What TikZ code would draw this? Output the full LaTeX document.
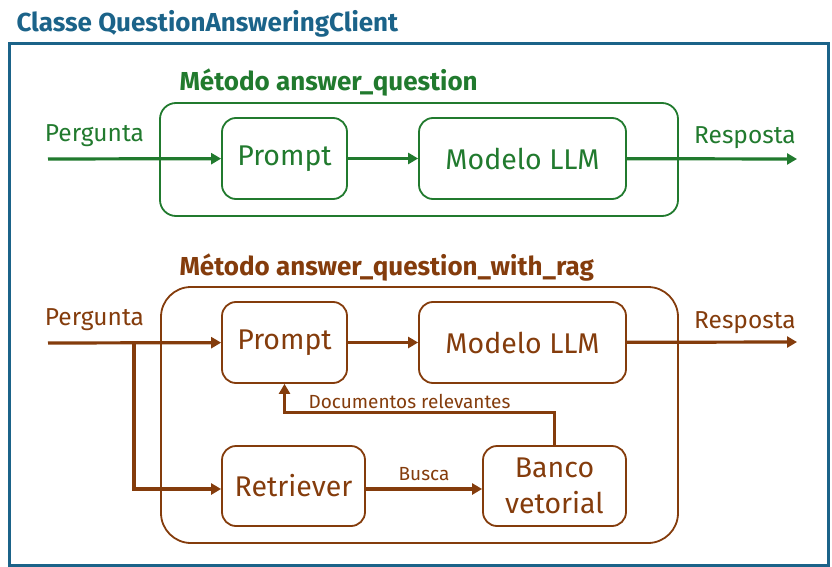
\documentclass[tikz,border=0pt]{standalone}
\usepackage{fontspec}
\setmainfont{Fira Sans}
\usepackage{tikz}
\usetikzlibrary{arrows.meta}

\definecolor{classblue}{RGB}{27,99,137}
\definecolor{qagreen}{RGB}{33,122,46}
\definecolor{ragbrown}{RGB}{132,60,12}

\tikzset{
    blk/.style={draw, line width=1.8pt, rounded corners=14pt, align=center,
        font=\fontsize{28.5}{36}\selectfont},
    grp/.style={draw, line width=1.8pt},
    arr/.style={line width=3.2pt, -{Triangle[length=10pt,width=11pt]}},
    lbl/.style={font=\fontsize{24.5}{28}\selectfont},
    ttl/.style={font=\bfseries\fontsize{26}{30}\selectfont, anchor=west},
}

\begin{document}
\begin{tikzpicture}[x=1pt,y=-1pt]
    \useasboundingbox (0,0) rectangle (832,567);

    % classe
    \draw[classblue, line width=3pt] (9.5,43.5) rectangle (828.5,565);
    \node[ttl, classblue] (title) at (13,24) {Classe QuestionAnsweringClient};

    % metodo answer_question
    \node[grp, qagreen, rounded corners=16pt, minimum width=518pt, minimum height=113pt] (gbox) at (419,159.5) {};
    \node[ttl, qagreen] (glabel) at (176,83) {Método answer\_question};
    \node[blk, qagreen, minimum width=125pt, minimum height=81pt] (gprompt) at (284.5,158.5) {Prompt};
    \node[blk, qagreen, minimum width=207pt, minimum height=81pt] (gllm) at (522.5,158.5) {Modelo LLM};
    \coordinate (gin) at (48,159);
    \coordinate (gout) at (797,159);
    \node[lbl, qagreen] (gq) at (94.5,136) {Pergunta};
    \node[lbl, qagreen] (ga) at (745,138) {Resposta};

    \draw[arr, qagreen] (gin) -- (gprompt); % pergunta -> prompt
    \draw[arr, qagreen] (gprompt) -- (gllm);
    \draw[arr, qagreen] (gllm) -- (gout); % llm -> resposta

    % metodo answer_question_with_rag
    \node[grp, ragbrown, rounded corners=30pt, minimum width=517pt, minimum height=256pt] (bbox) at (419.5,415) {};
    \node[ttl, ragbrown] (blabel) at (176,268) {Método answer\_question\_with\_rag};
    \node[blk, ragbrown, minimum width=125pt, minimum height=81pt] (bprompt) at (284.5,342.5) {Prompt};
    \node[blk, ragbrown, minimum width=207pt, minimum height=81pt] (bllm) at (522.5,342.5) {Modelo LLM};
    \node[blk, ragbrown, minimum width=143pt, minimum height=80pt] (bret) at (293.5,486) {Retriever};
    \node[blk, ragbrown, minimum width=143pt, minimum height=80pt] (bdb) at (554.5,486) {Banco\\vetorial};
    \coordinate (bin) at (48,343);
    \coordinate (bout) at (797,342);
    \coordinate (bsplit) at (134,343);
    \node[lbl, ragbrown] (bq) at (94.5,320) {Pergunta};
    \node[lbl, ragbrown] (ba) at (745,323) {Resposta};

    \draw[arr, ragbrown] (bin) -- (bprompt);
    \draw[arr, ragbrown] (bsplit) |- ([yshift=-3pt]bret.west); % pergunta -> retriever
    \draw[arr, ragbrown] (bprompt) -- (bllm);
    \draw[arr, ragbrown] (bllm) -- (bout);
    \draw[arr, ragbrown] ([yshift=-3pt]bret.east) -- node[above=3pt, font=\fontsize{19}{22}\selectfont] (busca) {Busca} ([yshift=-3pt]bdb.west);
    \draw[arr, ragbrown] (bdb.north) -- ++(0,-33) -| (bprompt.south); % banco -> prompt
    \node[ragbrown, font=\fontsize{19}{22}\selectfont] (docs) at (409.5,401) {Documentos relevantes};

\end{tikzpicture}
\end{document}
